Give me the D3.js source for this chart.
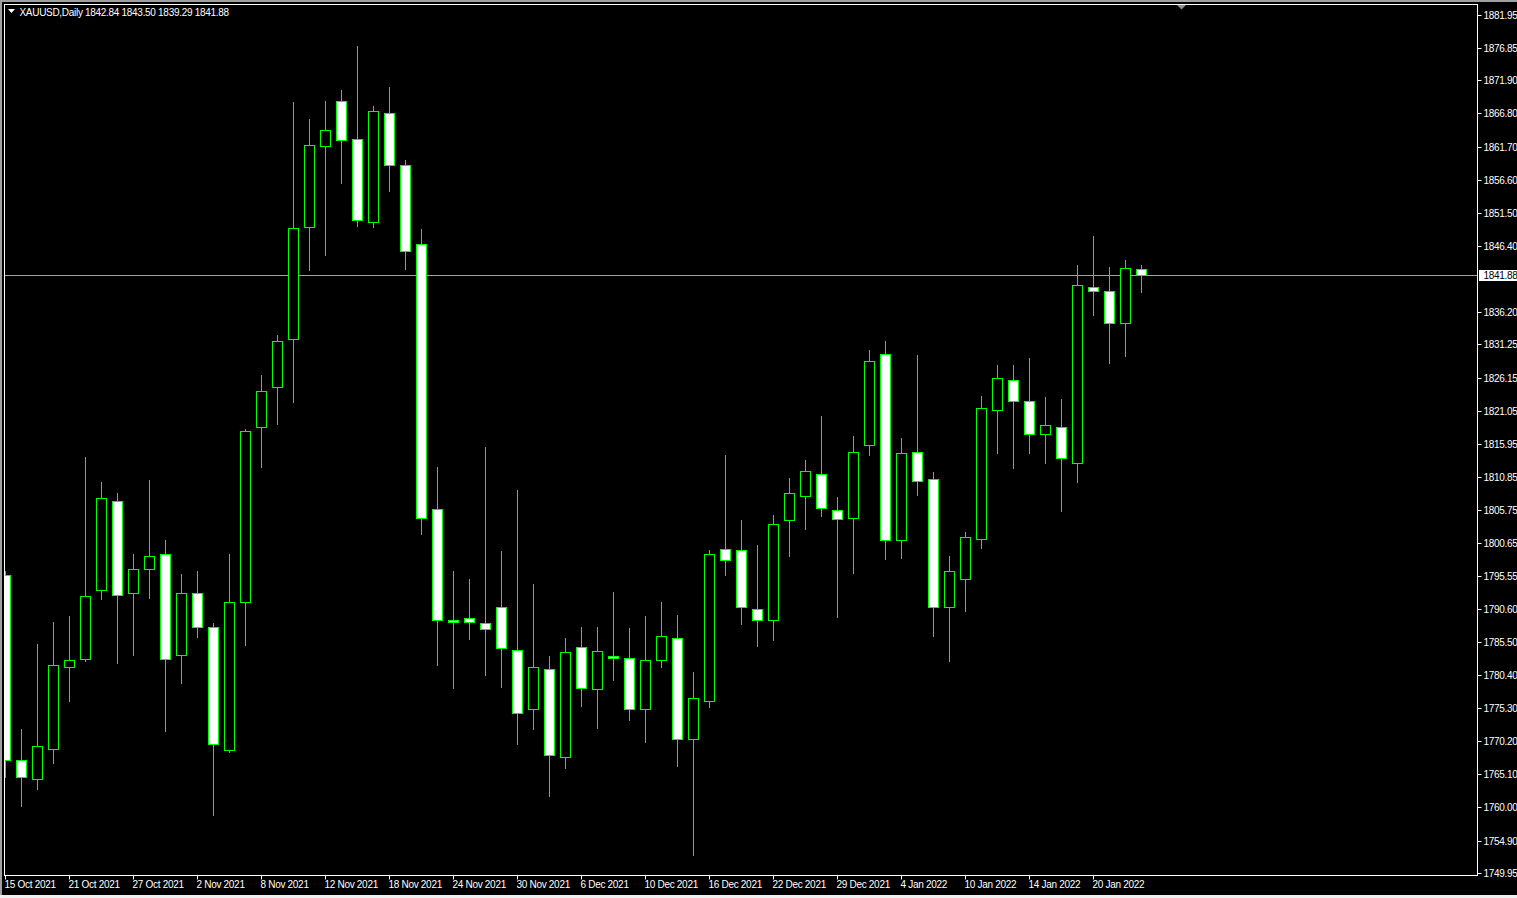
<!DOCTYPE html>
<html><head><meta charset="utf-8">
<script src="https://cdn.jsdelivr.net/npm/d3@7"></script>
<style>
html,body{margin:0;padding:0;background:#000;overflow:hidden}
svg{display:block}
text{font-family:"Liberation Sans",Arial,sans-serif;font-size:10px;fill:#fff;letter-spacing:-0.3px}
</style></head><body>
<svg id="c" width="1517" height="898"></svg>
<script>
const symbol = "XAUUSD,Daily";
const dates = ["2021-10-15","2021-10-18","2021-10-19","2021-10-20","2021-10-21","2021-10-22","2021-10-25","2021-10-26","2021-10-27","2021-10-28","2021-10-29",
"2021-11-01","2021-11-02","2021-11-03","2021-11-04","2021-11-05","2021-11-08","2021-11-09","2021-11-10","2021-11-11","2021-11-12",
"2021-11-15","2021-11-16","2021-11-17","2021-11-18","2021-11-19","2021-11-22","2021-11-23","2021-11-24","2021-11-25","2021-11-26",
"2021-11-29","2021-11-30","2021-12-01","2021-12-02","2021-12-03","2021-12-06","2021-12-07","2021-12-08","2021-12-09","2021-12-10",
"2021-12-13","2021-12-14","2021-12-15","2021-12-16","2021-12-17","2021-12-20","2021-12-21","2021-12-22","2021-12-23","2021-12-27",
"2021-12-28","2021-12-29","2021-12-30","2021-12-31","2022-01-03","2022-01-04","2022-01-05","2022-01-06","2022-01-07","2022-01-10",
"2022-01-11","2022-01-12","2022-01-13","2022-01-14","2022-01-17","2022-01-18","2022-01-19","2022-01-20","2022-01-21","2022-01-24","2022-01-25"];
const open  = [1795.76,1767.22,1764.43,1768.93,1781.57,1782.89,1793.51,1807.22,1793.05,1796.76,1798.93,
1783.50,1793.05,1787.84,1768.77,1791.57,1818.47,1824.75,1832.05,1849.26,1861.74,
1868.79,1862.83,1850.03,1866.94,1858.80,1846.63,1805.98,1788.89,1789.08,1788.32,
1790.78,1784.30,1775.07,1781.35,1767.79,1784.63,1778.27,1783.37,1782.92,1775.19,
1782.61,1786.12,1770.54,1776.45,1799.82,1799.57,1790.46,1788.78,1804.17,1807.87,
1811.26,1805.71,1804.48,1815.72,1829.73,1801.10,1814.64,1810.49,1790.78,1795.09,
1801.25,1821.11,1825.72,1822.49,1817.41,1818.49,1812.95,1840.04,1839.42,1834.50,1842.84];
const high  = [1796.37,1772.05,1785.14,1788.54,1789.48,1813.90,1810.10,1808.39,1799.00,1810.41,1801.19,
1795.91,1796.37,1788.31,1799.00,1818.24,1826.54,1832.67,1868.56,1865.93,1868.71,
1870.42,1877.18,1867.94,1870.88,1859.63,1849.01,1812.39,1796.37,1795.11,1815.47,
1799.45,1808.87,1794.36,1783.30,1786.06,1787.77,1787.77,1793.17,1787.57,1789.46,
1791.60,1789.58,1780.86,1799.63,1814.21,1804.16,1800.39,1804.99,1810.69,1813.46,
1820.23,1807.76,1817.15,1830.39,1831.77,1816.84,1829.62,1811.61,1798.68,1802.37,
1823.31,1828.08,1828.08,1829.16,1823.15,1822.85,1843.47,1847.93,1843.16,1844.24,1843.50];
const low   = [1764.74,1760.25,1762.88,1766.76,1776.44,1782.60,1792.11,1782.26,1783.50,1792.26,1771.79,
1779.09,1786.29,1758.85,1768.60,1785.06,1812.35,1819.01,1822.35,1842.67,1844.99,
1856.08,1849.49,1849.33,1854.85,1842.85,1802.14,1781.98,1778.39,1785.94,1780.41,
1778.59,1769.79,1772.11,1761.82,1766.08,1775.64,1772.24,1779.53,1773.38,1770.11,
1781.67,1766.40,1752.71,1775.52,1795.74,1788.26,1784.87,1785.80,1798.73,1802.88,
1804.88,1789.34,1796.11,1814.27,1798.26,1798.42,1808.12,1786.41,1782.57,1790.26,
1799.96,1814.58,1812.27,1814.58,1813.04,1805.65,1810.12,1835.82,1828.43,1829.51,1839.29];
const close = [1767.37,1764.74,1769.39,1781.87,1782.73,1792.57,1807.55,1792.72,1796.76,1798.62,1782.89,
1793.05,1787.84,1769.70,1791.57,1817.94,1824.14,1831.73,1849.10,1861.89,1864.30,
1862.66,1850.34,1867.25,1858.80,1845.56,1804.59,1788.89,1788.46,1788.58,1787.38,
1784.55,1774.56,1781.67,1768.10,1783.87,1778.39,1784.00,1783.04,1775.07,1782.73,
1786.44,1770.54,1776.89,1799.06,1798.07,1790.78,1788.89,1803.56,1808.33,1811.72,
1806.02,1804.33,1814.64,1828.65,1801.10,1814.49,1810.18,1790.78,1796.33,1801.56,
1821.41,1826.03,1822.49,1817.41,1818.80,1813.72,1840.35,1839.42,1834.50,1842.96,1841.88];
const priceTicks = ["1881.95","1876.85","1871.90","1866.80","1861.70","1856.60","1851.50","1846.40",
"1836.20","1831.25","1826.15","1821.05","1815.95","1810.85","1805.75","1800.65","1795.55","1790.60",
"1785.50","1780.40","1775.30","1770.20","1765.10","1760.00","1754.90","1749.95"];
const dateTicks = ["2021-10-15","2021-10-21","2021-10-27","2021-11-02","2021-11-08","2021-11-12","2021-11-18","2021-11-24",
"2021-11-30","2021-12-06","2021-12-10","2021-12-16","2021-12-22","2021-12-29","2022-01-04","2022-01-10","2022-01-14","2022-01-20"];

const svg = d3.select("#c");
const W = 1517, H = 898;
const L = 4.5, T = 4.5, R = 1477.5, B = 875.5;

const x = d3.scalePoint().domain(dates).range([5.5, 5.5 + 16 * (dates.length - 1)]);
const y = d3.scaleLinear().domain([1749.95, 1881.95]).range([872.7, 15]);
const snap = v => Math.round(v) + 0.5;

// window chrome
svg.append("rect").attr("x",0).attr("y",0).attr("width",W).attr("height",H).attr("fill","#000");
svg.append("rect").attr("x",0).attr("y",0).attr("width",2).attr("height",H).attr("fill","#a0a0a0");
svg.append("rect").attr("x",0).attr("y",0).attr("width",W).attr("height",2).attr("fill","#a0a0a0");
svg.append("rect").attr("x",0).attr("y",895).attr("width",W).attr("height",3).attr("fill","#f0f0f0");

svg.append("clipPath").attr("id","plot").append("rect")
  .attr("x",L+0.5).attr("y",T+0.5).attr("width",R-L-1).attr("height",B-T-1);

// current price line
const last = close[close.length-1];
svg.append("line").attr("x1",L).attr("x2",R).attr("y1",snap(y(last))).attr("y2",snap(y(last)))
  .attr("stroke","#a0a0a0").attr("stroke-width",1);

const data = dates.map((d,i)=>({d,o:open[i],h:high[i],l:low[i],c:close[i]}));
const g = svg.append("g").attr("clip-path","url(#plot)");
const cg = g.selectAll("g.candle").data(data).join("g").attr("class","candle");
cg.append("line")
  .attr("x1",d=>x(d.d)).attr("x2",d=>x(d.d))
  .attr("y1",d=>Math.round(y(d.h))).attr("y2",d=>Math.round(y(d.l))+1)
  .attr("stroke","#00ff00").attr("stroke-width",1);
cg.append("rect")
  .attr("x",d=>x(d.d)-5).attr("width",10)
  .attr("y",d=>snap(y(Math.max(d.o,d.c))))
  .attr("height",d=>Math.max(1, Math.round(y(Math.min(d.o,d.c))) - Math.round(y(Math.max(d.o,d.c)))))
  .attr("fill",d=>d.c>=d.o ? "#000" : "#fff")
  .attr("stroke","#00ff00").attr("stroke-width",1);

// frame
svg.append("rect").attr("x",L).attr("y",T).attr("width",R-L).attr("height",B-T)
  .attr("fill","none").attr("stroke","#fff").attr("stroke-width",1);

// shift marker
svg.append("path").attr("d","M1177,5 L1186,5 L1181.5,9.5 Z").attr("fill","#8c8c9c");

// price axis
const pa = svg.append("g");
priceTicks.forEach(t=>{
  const yy = snap(y(+t));
  pa.append("line").attr("x1",R).attr("x2",R+4).attr("y1",yy).attr("y2",yy).attr("stroke","#fff");
  pa.append("text").attr("x",1483.5).attr("y",yy+3.8).text(t);
});
// current price label
const ly = snap(y(last));
svg.append("rect").attr("x",1479).attr("y",ly-5.5).attr("width",W-1479).attr("height",11).attr("fill","#fff");
svg.append("text").attr("x",1483.5).attr("y",ly+3.8).style("fill","#000").text(last.toFixed(2));

// time axis
const fmt = d3.timeFormat("%-d %b %Y"), parse = d3.timeParse("%Y-%m-%d");
const ta = svg.append("g");
dateTicks.forEach(t=>{
  const xx = x(t);
  ta.append("line").attr("x1",xx).attr("x2",xx).attr("y1",B).attr("y2",B+4).attr("stroke","#fff");
  ta.append("text").attr("x",xx-1).attr("y",888).text(fmt(parse(t)));
});

// header
const n = open.length-1;
svg.append("path").attr("d","M8,9 L15,9 L11.5,13 Z").attr("fill","#fff");
svg.append("text").attr("x",19.5).attr("y",15.5)
  .text(symbol + "  " + [open[n],high[n],low[n],close[n]].map(v=>v.toFixed(2)).join(" "));
</script>
</body></html>
